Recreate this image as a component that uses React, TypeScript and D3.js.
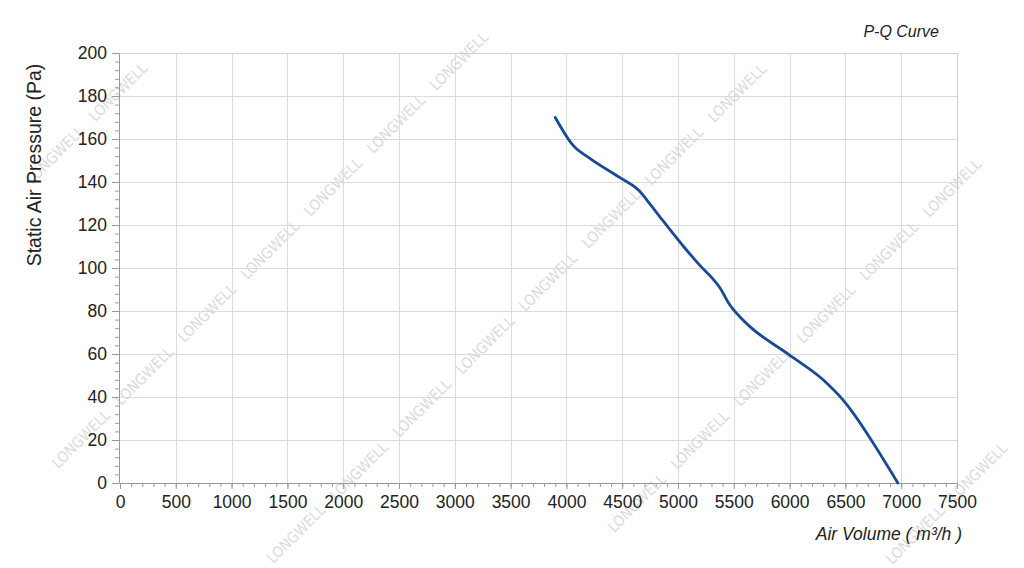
import * as d3 from 'd3';
import React, { useRef, useEffect } from 'react';

// air volume (m3/h) vs static pressure (Pa)
const airVolume = [3900, 4060, 4210, 4480, 4650, 4760, 4850, 5050, 5200, 5320, 5380, 5450, 5560, 5650, 6000, 6300, 6480, 6570, 6750, 6970];
const pressure = [170, 157, 151, 142, 136, 129, 123, 110, 101, 94.5, 90.5, 84, 77, 72.5, 59.5, 48, 38.5, 32.5, 18.5, 0];

const xTicks = [0, 500, 1000, 1500, 2000, 2500, 3000, 3500, 4000, 4500, 5000, 5500, 6000, 6500, 7000, 7500];
const yTicks = [0, 20, 40, 60, 80, 100, 120, 140, 160, 180, 200];

const title = 'P-Q Curve';
const xLabel = 'Air Volume ( m³/h )';
const yLabel = 'Static Air Pressure  (Pa)';
const watermark = 'LONGWELL';

const App = () => {
    const svgRef = useRef<SVGSVGElement>(null);

    useEffect(() => {
        const width = 1024;
        const height = 568;
        const margin = { left: 120, right: 67, top: 53, bottom: 85 };
        const font = '"Liberation Sans", Arial, sans-serif';

        const svg = d3.select(svgRef.current);
        svg.selectAll('*').remove();

        const x = d3.scaleLinear().domain([0, 7500]).range([margin.left, width - margin.right]);
        const y = d3.scaleLinear().domain([0, 200]).range([height - margin.bottom, margin.top]);

        // grid
        const grid = svg.append('g').attr('stroke', '#dcdcdc').attr('stroke-width', 1);
        grid.selectAll('line.v')
            .data(xTicks.slice(1))
            .join('line')
            .attr('class', 'v')
            .attr('x1', (d: number) => Math.round(x(d)) + 0.5)
            .attr('x2', (d: number) => Math.round(x(d)) + 0.5)
            .attr('y1', y(0))
            .attr('y2', y(200));
        grid.selectAll('line.h')
            .data(yTicks.slice(1))
            .join('line')
            .attr('class', 'h')
            .attr('x1', x(0))
            .attr('x2', x(7500))
            .attr('y1', (d: number) => Math.round(y(d)) + 0.5)
            .attr('y2', (d: number) => Math.round(y(d)) + 0.5);

        // watermark lattice
        const wm = svg.append('g')
            .attr('fill', '#dadada')
            .attr('font-family', '"Liberation Sans Narrow", "DejaVu Sans Condensed", sans-serif')
            .attr('font-size', 15);
        for (let row = -3; row < 6; row++) {
            for (let k = -8; k < 10; k++) {
                const cx = 118 + row * 278 + k * 63;
                const cy = 92 + row * 32 - k * 63;
                if (cx < 30 || cx > 994 || cy < 36 || cy > 540) continue;
                wm.append('text')
                    .attr('transform', `translate(${cx},${cy}) rotate(-45)`)
                    .attr('text-anchor', 'middle')
                    .attr('dy', '0.35em')
                    .text(watermark);
            }
        }

        // axes
        const axisColor = '#9a9a9a';
        const xAxis = svg.append('g')
            .attr('transform', `translate(0,${y(0)})`)
            .call(d3.axisBottom(x).tickValues(d3.range(0, 7501, 100)).tickSize(4).tickFormat(() => ''));
        xAxis.selectAll('line').attr('stroke', axisColor);
        xAxis.select('.domain').attr('stroke', axisColor);
        const xMajor = svg.append('g')
            .attr('transform', `translate(0,${y(0)})`)
            .call(d3.axisBottom(x).tickValues(xTicks).tickSize(6).tickPadding(7).tickFormat(d3.format('d')));
        xMajor.select('.domain').remove();
        xMajor.selectAll('line').attr('stroke', axisColor);
        xMajor.selectAll('text').attr('fill', '#222').attr('font-size', 17.5).attr('font-family', font);

        const yAxis = svg.append('g')
            .attr('transform', `translate(${x(0) - 1},0)`)
            .call(d3.axisLeft(y).tickValues(d3.range(0, 201, 4)).tickSize(4).tickFormat(() => ''));
        yAxis.selectAll('line').attr('stroke', axisColor);
        yAxis.select('.domain').attr('stroke', axisColor);
        const yMajor = svg.append('g')
            .attr('transform', `translate(${x(0) - 1},0)`)
            .call(d3.axisLeft(y).tickValues(yTicks).tickSize(7).tickPadding(5).tickFormat(d3.format('d')));
        yMajor.select('.domain').remove();
        yMajor.selectAll('line').attr('stroke', axisColor);
        yMajor.selectAll('text').attr('fill', '#222').attr('font-size', 17.5).attr('font-family', font);

        // frame top/right
        svg.append('line')
            .attr('x1', x(0)).attr('x2', x(7500))
            .attr('y1', y(200) + 0.5).attr('y2', y(200) + 0.5)
            .attr('stroke', '#cfcfcf');
        svg.append('line')
            .attr('x1', x(7500) + 0.5).attr('x2', x(7500) + 0.5)
            .attr('y1', y(0)).attr('y2', y(200))
            .attr('stroke', '#cfcfcf');

        // curve
        const points = airVolume.map((q, i) => [q, pressure[i]] as [number, number]);
        const line = d3.line<[number, number]>()
            .x((d) => x(d[0]))
            .y((d) => y(d[1]))
            .curve(d3.curveMonotoneX);
        svg.append('path')
            .datum(points)
            .attr('d', line)
            .attr('fill', 'none')
            .attr('stroke', '#1a4a96')
            .attr('stroke-width', 2.8)
            .attr('stroke-linecap', 'round');

        // labels
        svg.append('text')
            .attr('x', 939).attr('y', 37)
            .attr('text-anchor', 'end')
            .attr('font-family', font)
            .attr('font-style', 'italic')
            .attr('font-size', 16)
            .attr('fill', '#222')
            .text(title);
        svg.append('text')
            .attr('x', 962).attr('y', 540)
            .attr('text-anchor', 'end')
            .attr('font-family', font)
            .attr('font-style', 'italic')
            .attr('font-size', 17.5)
            .attr('fill', '#222')
            .text(xLabel);
        svg.append('text')
            .attr('transform', `translate(41,${165}) rotate(-90)`)
            .attr('text-anchor', 'middle')
            .attr('font-family', font)
            .attr('font-size', 19.5)
            .attr('fill', '#222')
            .text(yLabel);
    }, []);

    return (
        <div style={{ position: 'absolute', left: 0, top: 0 }}>
            <svg ref={svgRef} width={1024} height={568} style={{ display: 'block', background: '#fff' }} />
        </div>
    );
};
export default App;
